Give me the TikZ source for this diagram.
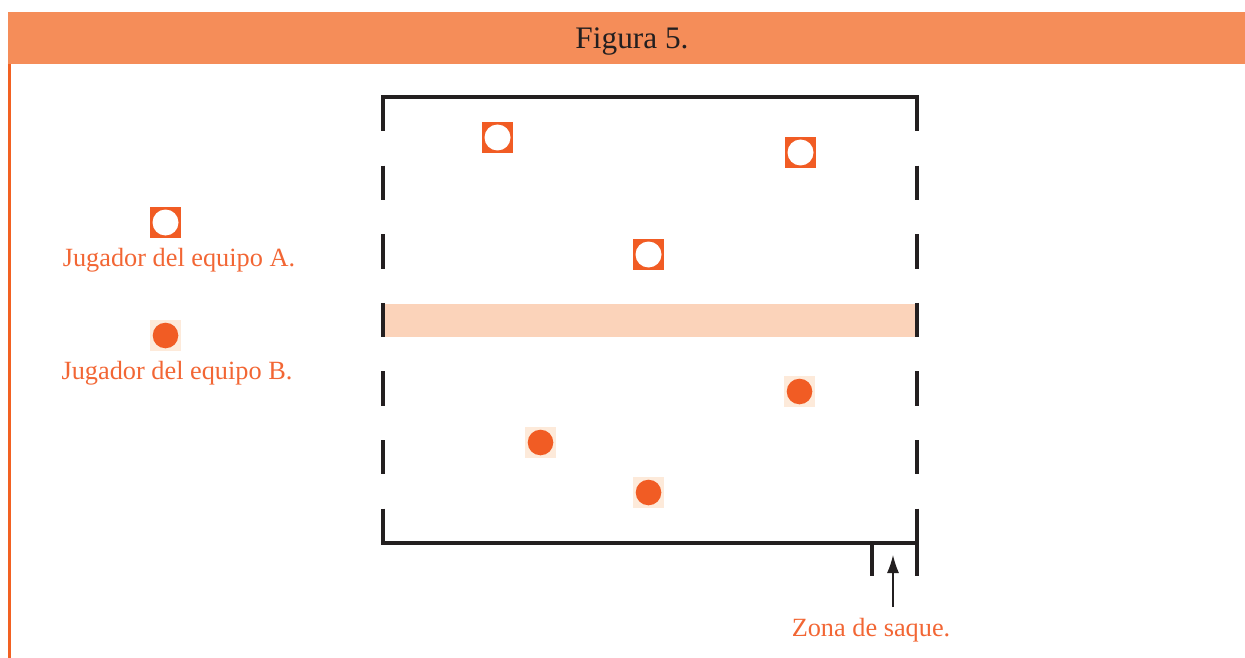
\documentclass[tikz,border=0pt]{standalone}
\usepackage{fontspec}
\setmainfont{Liberation Serif}
\usetikzlibrary{arrows.meta}
\definecolor{hdr}{RGB}{245,141,89}
\definecolor{edge}{RGB}{242,97,34}
\definecolor{pl}{RGB}{241,92,36}
\definecolor{bbg}{RGB}{253,234,218}
\definecolor{band}{RGB}{251,211,186}
\definecolor{txt}{RGB}{242,102,52}
\definecolor{ink}{RGB}{35,31,32}
\tikzset{
  playerA/.style={rectangle, fill=pl, minimum size=31pt, inner sep=0pt,
    path picture={\fill[white] (path picture bounding box.center) circle (13pt);}},
  playerB/.style={rectangle, fill=bbg, minimum size=31pt, inner sep=0pt,
    path picture={\fill[pl] (path picture bounding box.center) circle (12.8pt);}},
  court/.style={draw=ink, line width=3.1pt},
  courtdash/.style={court, dash pattern=on 34.31pt off 34.31pt},
  label/.style={text=txt, font=\fontsize{26.3pt}{30pt}\selectfont, anchor=base, inner sep=0pt},
  title/.style={text=ink, font=\fontsize{31.3pt}{36pt}\selectfont, anchor=base, inner sep=0pt},
}
\begin{document}
\begin{tikzpicture}[x=1pt,y=-1pt]
\useasboundingbox (0,0) rectangle (1245,658);
% header
\fill[hdr] (8,12) rectangle (1245,64);
\node[title] (title) at (632,49) {Figura 5.};
\draw[edge, line width=3pt] (9.5,64) -- (9.5,658);
% band
\fill[band] (383,304) rectangle (917,337);
% court
\draw[courtdash] (383,97) -- (383,543);
\draw[courtdash] (917,97) -- (917,543);
\draw[court] (917,509) -- (917,576);
\draw[court, line cap=rect] (383,97) -- (917,97);
\draw[court, line cap=rect] (383,543) -- (917,543);
\draw[court] (872,543) -- (872,576);
% players A
\node[playerA] (a1) at (497.5,137.5) {};
\node[playerA] (a2) at (800.5,152.5) {};
\node[playerA] (a3) at (648.5,254.5) {};
% players B
\node[playerB] (b1) at (799.5,391.5) {};
\node[playerB] (b2) at (540.5,442.5) {};
\node[playerB] (b3) at (648.5,492.5) {};
% legend
\node[playerA] (la) at (165.5,222.5) {};
\node[label] (lta) at (179,266) {Jugador del equipo A.};
\node[playerB] (lb) at (165.5,335.5) {};
\node[label] (ltb) at (177,379) {Jugador del equipo B.};
% serving zone
\node[label] (zona) at (871,636) {Zona de saque.};
\coordinate (tail) at (893,607);
\coordinate (tip) at (893,555);
\draw[ink, line width=1.3pt, -{Latex[length=18pt,width=12pt]}] (tail) -- (tip);
\end{tikzpicture}
\end{document}
